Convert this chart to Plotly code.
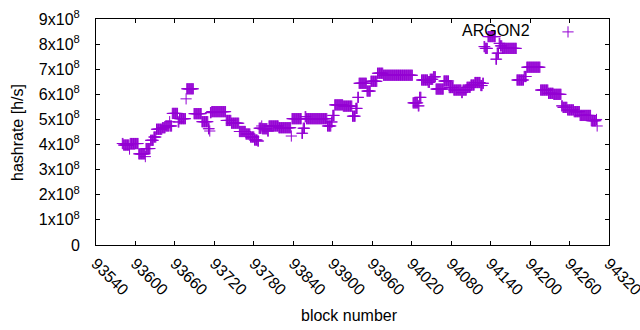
import plotly.graph_objects as go

# Runs of consecutive blocks sharing the same hashrate (in units of 1e8 h/s)
run_start = [93580, 93582, 93591, 93592, 93605, 93615, 93616, 93623, 93628, 93632,
             93641, 93646, 93652, 93653, 93656, 93665, 93667, 93677, 93678, 93689,
             93701, 93711, 93713, 93714, 93716, 93738, 93746, 93758, 93768, 93775,
             93781, 93786, 93788, 93792, 93793, 93801, 93803, 93818, 93837, 93838,
             93853, 93855, 93858, 93860, 93892, 93898, 93900, 93903, 93916, 93930,
             93935, 93938, 93940, 93952, 93958, 93968, 93977, 94022, 94030, 94032,
             94035, 94045, 94048, 94053, 94057, 94069, 94077, 94084, 94096, 94098,
             94104, 94110, 94116, 94125, 94128, 94130, 94132, 94136, 94148, 94150,
             94153, 94155, 94158, 94180, 94191, 94195, 94216, 94228, 94236, 94248,
             94250, 94257, 94267, 94276, 94293, 94301, 94302]
run_end = [93581, 93590, 93591, 93604, 93614, 93615, 93622, 93627, 93631, 93640,
           93645, 93651, 93652, 93655, 93664, 93666, 93676, 93677, 93688, 93700,
           93710, 93712, 93713, 93715, 93737, 93745, 93757, 93767, 93774, 93780,
           93785, 93787, 93791, 93792, 93800, 93802, 93817, 93836, 93837, 93852,
           93854, 93857, 93859, 93891, 93897, 93899, 93902, 93915, 93929, 93934,
           93937, 93939, 93951, 93957, 93967, 93976, 94021, 94029, 94031, 94034,
           94044, 94047, 94052, 94056, 94068, 94076, 94083, 94095, 94097, 94103,
           94109, 94115, 94124, 94127, 94129, 94131, 94135, 94147, 94149, 94152,
           94154, 94157, 94179, 94190, 94194, 94215, 94227, 94235, 94247, 94249,
           94256, 94266, 94275, 94292, 94300, 94301, 94302]
run_value = [4.04, 3.98, 3.82, 4.04, 3.63, 3.52, 3.84, 4.17, 4.30, 4.61,
             4.67, 4.74, 4.91, 4.74, 5.24, 4.90, 5.03, 5.82, 6.22, 5.23,
             4.91, 4.63, 4.54, 5.27, 5.31, 4.96, 4.85, 4.52, 4.42, 4.30,
             4.18, 4.14, 4.65, 4.74, 4.63, 4.54, 4.74, 4.67, 4.34, 5.03,
             4.45, 4.65, 5.11, 5.03, 4.74, 4.90, 5.16, 5.58, 5.53, 5.13,
             5.44, 5.88, 6.44, 6.13, 6.52, 6.84, 6.76, 5.66, 5.54, 5.88,
             6.57, 6.48, 6.60, 6.70, 6.21, 6.53, 6.27, 6.17, 6.07, 6.17,
             6.28, 6.37, 6.47, 6.35, 6.44, 7.90, 7.83, 8.30, 7.40, 7.64,
             8.03, 7.93, 7.83, 6.57, 6.71, 7.08, 6.17, 6.04, 6.00, 5.54,
             5.48, 5.38, 5.31, 5.16, 4.95, 5.00, 4.74]

x_ticks = [93540, 93600, 93660, 93720, 93780, 93840, 93900, 93960, 94020,
           94080, 94140, 94200, 94260, 94320]
y_ticks = [0, 1e8, 2e8, 3e8, 4e8, 5e8, 6e8, 7e8, 8e8, 9e8]
y_tick_text = ["0", "1x10<sup>8</sup>", "2x10<sup>8</sup>", "3x10<sup>8</sup>",
               "4x10<sup>8</sup>", "5x10<sup>8</sup>", "6x10<sup>8</sup>",
               "7x10<sup>8</sup>", "8x10<sup>8</sup>", "9x10<sup>8</sup>"]
series_name = "ARGON2"

blocks, rates = [], []
for s, e, v in zip(run_start, run_end, run_value):
    for b in range(s, e + 1):
        blocks.append(b)
        rates.append(v * 1e8)

COLOR = "#9400d3"
FONT = "Liberation Sans, Arial, sans-serif"

fig = go.Figure()
fig.add_trace(go.Scatter(
    x=blocks, y=rates, mode="markers", name=" ",
    marker=dict(symbol="cross-thin", size=8, color=COLOR,
                line=dict(width=1, color=COLOR)),
    showlegend=True,
))

axis_common = dict(
    showline=True, linecolor="black", linewidth=1, mirror="ticks",
    ticks="inside", ticklen=4, tickcolor="black", tickwidth=1,
    showgrid=False, zeroline=False,
    tickfont=dict(family=FONT, size=16, color="black"),
)

fig.update_xaxes(range=[93540, 94320], tickvals=x_ticks, tickformat="d", tickangle=45,
                 ticklabelstandoff=2, ticklabeloverflow="allow", **axis_common)
fig.update_yaxes(range=[0, 9e8], tickvals=y_ticks, ticktext=y_tick_text,
                 ticklabelstandoff=12, **axis_common)

# axis titles and key text
fig.add_annotation(text="block number", xref="paper", yref="paper",
                   x=(349 - 96) / 513, y=(245 - 315) / 226, xanchor="center", yanchor="middle",
                   showarrow=False, font=dict(family=FONT, size=16, color="black"))
fig.add_annotation(text="hashrate [h/s]", xref="paper", yref="paper",
                   x=(17 - 96) / 513, y=(245 - 133) / 226, xanchor="center", yanchor="middle",
                   textangle=-90, showarrow=False, font=dict(family=FONT, size=16, color="black"))
fig.add_annotation(text=series_name, xref="paper", yref="paper",
                   x=(532 - 96) / 513, y=(245 - 31) / 226, xanchor="right", yanchor="middle",
                   showarrow=False, font=dict(family=FONT, size=16, color="black"))

fig.update_layout(
    width=640, height=330,
    margin=dict(l=96, r=31, t=19, b=85, autoexpand=False),
    paper_bgcolor="white", plot_bgcolor="white",
    font=dict(family=FONT, size=16, color="black"),
    legend=dict(x=(570 - 22) / 640, xref="container", y=(330 - 32) / 330, yref="container",
                xanchor="left", yanchor="middle", bgcolor="rgba(0,0,0,0)",
                borderwidth=0, font=dict(size=16)),
)

fig.write_html("out.html", config={"displayModeBar": False},
               post_script="document.body.style.margin='0';")
